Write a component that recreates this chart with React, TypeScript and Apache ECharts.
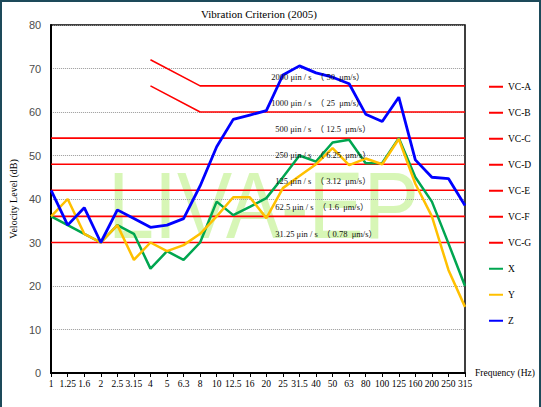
import React, { useEffect, useRef } from "react";
import * as echarts from "echarts";

const categories = ["1", "1.25", "1.6", "2", "2.5", "3.15", "4", "5", "6.3", "8", "10", "12.5", "16", "20", "25", "31.5", "40", "50", "63", "80", "100", "125", "160", "200", "250", "315"];

const xValues = [36, 34, 32, 30, 34, 32, 24, 28, 26, 30, 39.4, 36.3, 38.2, 40.2, 45, 50, 48.6, 53, 53.6, 48.2, 48.3, 54, 45, 39.4, 29.8, 20];
const yValues = [36, 40, 32, 30, 34, 26, 30, 28, 29.4, 32, 36, 40.4, 40.4, 35.6, 42.5, 45.3, 48, 51.7, 47.8, 49.3, 48, 53.8, 43.5, 36, 23.7, 15.2];
const zValues = [42, 34, 38, 30, 37.5, 35.5, 33.5, 34, 35.5, 43, 52, 58.3, 59.3, 60.3, 68.5, 70.6, 69, 68, 66.5, 59.5, 57.8, 63.4, 49, 45, 44.7, 38.5];

const vcNames = ["VC-A", "VC-B", "VC-C", "VC-D", "VC-E", "VC-F", "VC-G"];
const vcLevels = [66, 60, 54, 48, 42, 36, 30];
// sloped start (at 4 Hz) for VC-A and VC-B, flat from 8 Hz
const vcSlopeStart = [72, 66, null, null, null, null, null];
const vcSlopeFrom = "4";
const vcKneeAt = "8";
const vcNotes = [
  "2000 μin / s  （ 50  μm/s）",
  "1000 μin / s  （ 25  μm/s）",
  "500 μin / s  （ 12.5  μm/s）",
  "250 μin / s  （ 6.25  μm/s）",
  "125 μin / s  （ 3.12  μm/s）",
  "62.5 μin / s  （ 1.6  μm/s）",
  "31.25 μin / s  （ 0.78  μm/s）",
];
const noteAt = "20";

const SERIF = "'Liberation Serif', 'Times New Roman', 'Noto Sans CJK SC', serif";

export default function App() {
  const ref = useRef<HTMLDivElement>(null);
  useEffect(() => {
    if (!ref.current) return;
    const chart = echarts.init(ref.current, undefined, { renderer: "svg" });
    const startIdx = categories.indexOf(vcSlopeFrom);
    const kneeIdx = categories.indexOf(vcKneeAt);

    const vcSeries = vcNames.map((name, k) => {
      const start = vcSlopeStart[k];
      const data = categories.map((_, i) => {
        if (start == null) return vcLevels[k];
        if (i === startIdx) return start;
        if (i >= kneeIdx) return vcLevels[k];
        return null;
      });
      return {
        name,
        type: "line",
        data,
        connectNulls: true,
        symbol: "none",
        lineStyle: { color: "#ff0000", width: 1.6 },
        itemStyle: { color: "#ff0000" },
        z: 2,
        markPoint: {
          symbol: "circle",
          symbolSize: 0,
          silent: true,
          data: [
            {
              coord: [noteAt, vcLevels[k]],
              label: {
                show: true,
                position: "right",
                distance: k < 2 ? 5 : 9,
                offset: [0, -9],
                formatter: vcNotes[k],
                fontFamily: SERIF,
                fontSize: 8.5,
                color: "#111",
              },
            },
          ],
        },
      };
    });

    const dataSeries = [
      { name: "X", data: xValues, color: "#00a650", width: 2.5 },
      { name: "Y", data: yValues, color: "#ffc000", width: 2.5 },
      { name: "Z", data: zValues, color: "#0000ff", width: 2.8 },
    ].map((s) => ({
      name: s.name,
      type: "line",
      data: s.data,
      symbol: "none",
      lineStyle: { color: s.color, width: s.width },
      itemStyle: { color: s.color },
      z: 3,
    }));

    chart.setOption({
      animation: false,
      backgroundColor: "#ffffff",
      title: {
        text: "Vibration Criterion (2005)",
        left: 196,
        top: 3,
        textStyle: { fontFamily: SERIF, fontSize: 11, fontWeight: "normal", color: "#000" },
      },
      legend: {
        orient: "vertical",
        left: 484,
        top: 76,
        icon: "rect",
        itemWidth: 14,
        itemHeight: 2,
        itemGap: 14.5,
        data: [...vcNames, "X", "Y", "Z"],
        textStyle: { fontFamily: SERIF, fontSize: 9.5, color: "#000", lineHeight: 11.5 },
      },
      grid: {
        left: 47,
        right: 76,
        top: 25,
        bottom: 34,
        show: true,
        borderColor: "#000",
        borderWidth: 1.5,
        backgroundColor: "transparent",
      },
      graphic: [
        {
          type: "text",
          x: 108,
          y: 205,
          scaleX: 0.87,
          z: -1,
          silent: true,
          style: {
            text: "LIVA-EP",
            fontFamily: "'Liberation Sans', Arial, sans-serif",
            fontSize: 95,
            fill: "rgba(175,238,110,0.5)",
            verticalAlign: "middle",
            align: "left",
          },
        },
      ],
      xAxis: {
        type: "category",
        data: categories,
        boundaryGap: false,
        name: "Frequency (Hz)",
        nameLocation: "end",
        nameGap: 10,
        nameTextStyle: { fontFamily: SERIF, fontSize: 9.5, color: "#000", padding: [20, 0, 0, 0] },
        axisLine: { show: true, lineStyle: { color: "#000", width: 2 } },
        axisTick: { show: true, length: 4, lineStyle: { color: "#000" } },
        axisLabel: { interval: 0, fontFamily: SERIF, fontSize: 9.5, color: "#000", margin: 6 },
        splitLine: { show: false },
      },
      yAxis: {
        type: "value",
        min: 0,
        max: 80,
        interval: 10,
        name: "Velocity Level (dB)",
        nameLocation: "middle",
        nameGap: 29,
        nameTextStyle: { fontFamily: SERIF, fontSize: 10, color: "#000" },
        axisLine: { show: true, lineStyle: { color: "#000", width: 2 } },
        axisTick: { show: false },
        axisLabel: { fontFamily: "'Liberation Sans', Arial, sans-serif", fontSize: 11, color: "#4d4d4d", margin: 10 },
        splitLine: { show: true, lineStyle: { color: "#999", type: "dotted", width: 1 } },
      },
      series: [...vcSeries, ...dataSeries],
    });
    return () => chart.dispose();
  }, []);

  return (
    <div style={{ position: "absolute", left: 0, top: 0, width: 541, height: 407, background: "#fff" }}>
      <div ref={ref} style={{ position: "absolute", left: 0, top: 0, width: 541, height: 407 }} />
      <div
        style={{
          position: "absolute",
          left: 0,
          top: 0,
          width: 541,
          height: 407,
          boxSizing: "border-box",
          borderLeft: "2px solid #1d4a5a",
          borderRight: "2px solid #1d4a5a",
          borderTop: "2px solid #1d4a5a",
          pointerEvents: "none",
        }}
      />
    </div>
  );
}
